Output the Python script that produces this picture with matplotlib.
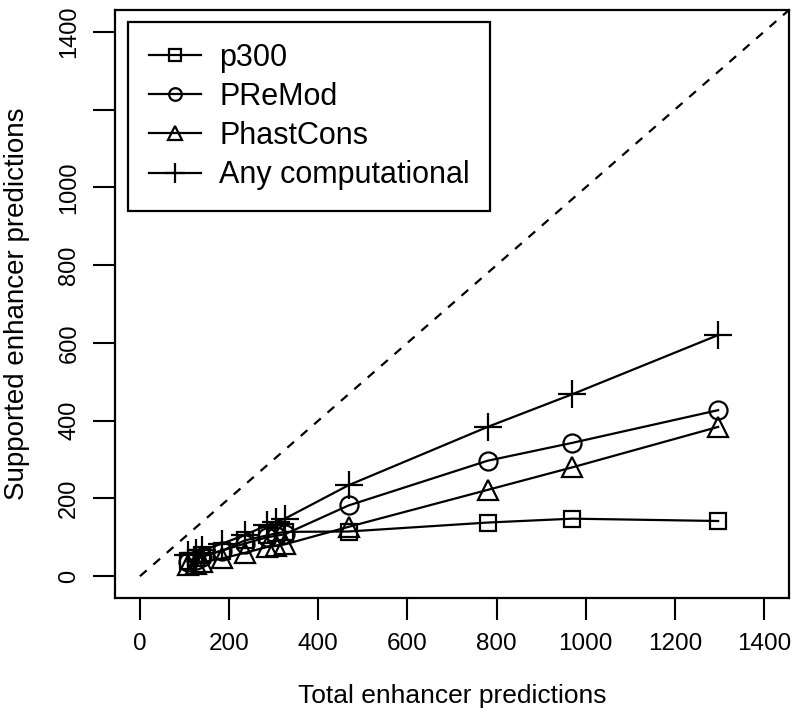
import numpy as np
import matplotlib.pyplot as plt

plt.rcParams["font.family"] = ["Liberation Sans", "DejaVu Sans"]

# total predictions (x) and supported predictions (y) per method
total = [108, 125, 140, 185, 235, 285, 305, 325, 468, 780, 970, 1297]
p300 = [40, 46, 54, 66, 92, 105, 110, 114, 115, 138, 148, 142]
premod = [36, 42, 50, 66, 84, 100, 104, 108, 182, 297, 343, 427]
phastcons = [28, 32, 36, 46, 60, 75, 78, 82, 127, 222, 280, 384]
any_comp = [54, 60, 67, 84, 106, 131, 140, 148, 234, 384, 468, 620]

labels = ["p300", "PReMod", "PhastCons", "Any computational"]
series = [p300, premod, phastcons, any_comp]
markers = ["s", "o", "^", "+"]
msizes = [12, 13, 14, 20]

fig = plt.figure(figsize=(7.97, 7.15), dpi=100)
ax = fig.add_axes([115 / 797, 1 - 598 / 715, 674 / 797, 588 / 715])

for y, lab, m, ms in zip(series, labels, markers, msizes):
    ax.plot(total, y, color="black", lw=1.6, marker=m, ms=ms,
            mfc="none", mec="black", mew=1.6, label=lab)

ax.plot([0, 1456], [0, 1456], color="black", lw=1.6, ls=(0, (4, 4)))

ax.set_xlim(-56, 1456)
ax.set_ylim(-56, 1456)
ticks = np.arange(0, 1401, 200)
ax.set_xticks(ticks)
ax.set_yticks(ticks)
ax.set_yticklabels(["" if t == 1200 else str(t) for t in ticks],
                   rotation=90, va="center")
ax.tick_params(direction="out", length=16, width=1.5, color="black")
ax.tick_params(axis="x", labelsize=17.5, pad=9)
ax.tick_params(axis="y", labelsize=17, pad=9)
for s in ax.spines.values():
    s.set_linewidth(1.6)

ax.set_xlabel("Total enhancer predictions", fontsize=19, labelpad=21)
ax.set_ylabel("Supported enhancer predictions", fontsize=20, labelpad=20)

leg = ax.legend(loc="upper left", bbox_to_anchor=(13 / 674, 1 - 12 / 588),
                borderaxespad=0, fontsize=22, markerscale=0.7,
                handlelength=1.7, handletextpad=0.6, labelspacing=0.3,
                borderpad=0.68, fancybox=False, edgecolor="black",
                framealpha=1)
leg.get_frame().set_linewidth(1.6)

fig.savefig("out.png", dpi=100)
